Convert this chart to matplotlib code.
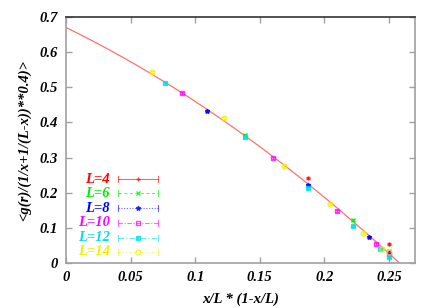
import numpy as np
import matplotlib
matplotlib.use("Agg")
import matplotlib.pyplot as plt
from matplotlib import font_manager

plt.rcParams["font.family"] = ["Liberation Serif", "DejaVu Serif"]
plt.rcParams["font.weight"] = "bold"
plt.rcParams["font.style"] = "italic"
plt.rcParams["font.size"] = 10

# ---- data ----
labels = ["L=4", "L=6", "L=8", "L=10", "L=12", "L=14"]
colors = ["#ff0000", "#00ee00", "#0000ff", "#ff00ff", "#00e0e0", "#f0f000"]
markers = ["+", "x", "*", "s", "s", "o"]
filled = [True, True, True, False, True, False]
styles = ["-", (0, (3, 2)), (0, (1, 1.5)), (0, (4, 1.5, 1, 1.5)), (0, (5, 2, 1, 2)), (0, (2, 2, 1, 2, 1, 2))]

x4 = [0.1875, 0.25]
y4 = [0.242, 0.053]
x6 = [0.1389, 0.2222, 0.25]
y6 = [0.364, 0.122, 0.033]
x8 = [0.1094, 0.1875, 0.2344, 0.25]
y8 = [0.433, 0.221, 0.073, 0.028]
x10 = [0.09, 0.16, 0.21, 0.24, 0.25]
y10 = [0.483, 0.300, 0.147, 0.053, 0.025]
x12 = [0.0764, 0.1389, 0.1875, 0.2222, 0.2431, 0.25]
y12 = [0.513, 0.358, 0.213, 0.105, 0.039, 0.016]
x14 = [0.0663, 0.1224, 0.1684, 0.2041, 0.2296, 0.2449, 0.25]
y14 = [0.543, 0.412, 0.277, 0.167, 0.086, 0.040, 0.030]
xs = [x4, x6, x8, x10, x12, x14]
ys = [y4, y6, y8, y10, y12, y14]
yerr = 0.003

# fit curve f(x) = a + b x + c x^2
fit_a, fit_b, fit_c = 0.67, -1.794, -3.11

fp = font_manager.FontProperties(family=["Liberation Serif", "DejaVu Serif"],
                                 style="italic", weight="bold", size=10.5)

fig = plt.figure(figsize=(4.4, 3.08), dpi=100)
ax = fig.add_axes([0.15, 0.146, 0.793, 0.799])

xf = np.linspace(0, 0.27, 300)
ax.plot(xf, fit_a + fit_b * xf + fit_c * xf ** 2, color="#ff7070", lw=0.9, zorder=1)

for x, y, c, m, f in zip(xs, ys, colors, markers, filled):
    ax.errorbar(x, y, yerr=yerr, fmt=m, color=c, ms=3.5, mew=1,
                mfc=c if f else "none", capsize=1.5, elinewidth=0.8,
                alpha=0.75, zorder=2)

# gnuplot style key: right aligned coloured text, sample with errorbar caps
key_y = [0.341, 0.283, 0.222, 0.163, 0.102, 0.045]
for ky, lab, c, m, f, ls in zip(key_y, labels, colors, markers, filled, styles):
    ax.text(0.126, ky, lab, transform=ax.transAxes, ha="right", va="center",
            color=c, fontproperties=fp.copy(), fontsize=10.5)
    ax.plot([0.149, 0.264], [ky, ky], transform=ax.transAxes, color=c,
            ls=ls, lw=0.8, alpha=0.6, clip_on=False)
    for cx in (0.149, 0.264):
        ax.plot([cx, cx], [ky - 0.012, ky + 0.012], transform=ax.transAxes,
                color=c, lw=0.8, alpha=0.6, clip_on=False)
    ax.plot([0.206], [ky], transform=ax.transAxes, marker=m, color=c, ms=3.5,
            mfc=c if f else "none", mew=1, alpha=0.75, clip_on=False)

ax.set_xlim(0, 0.27)
ax.set_ylim(0, 0.7)
ax.set_xticks([0, 0.05, 0.1, 0.15, 0.2, 0.25])
ax.set_xticklabels(["0", "0.05", "0.1", "0.15", "0.2", "0.25"], fontproperties=fp)
ax.set_yticks([0, 0.1, 0.2, 0.3, 0.4, 0.5, 0.6, 0.7])
ax.set_yticklabels(["0", "0.1", "0.2", "0.3", "0.4", "0.5", "0.6", "0.7"], fontproperties=fp)
ax.tick_params(direction="in", length=4, width=1, color="#a0a0a0",
               top=True, right=True, pad=6)
for s in ax.spines.values():
    s.set_color("#a0a0a0")
    s.set_linewidth(1.2)
ax.spines["top"].set_color("#333333")

ax.set_xlabel("x/L * (1-x/L)", fontproperties=fp, labelpad=6)
ax.set_ylabel("<g(r)/(1/x+1/(L-x))**0.4)>", fontproperties=fp, labelpad=6)

fig.savefig("out.png", dpi=100, facecolor="white")
